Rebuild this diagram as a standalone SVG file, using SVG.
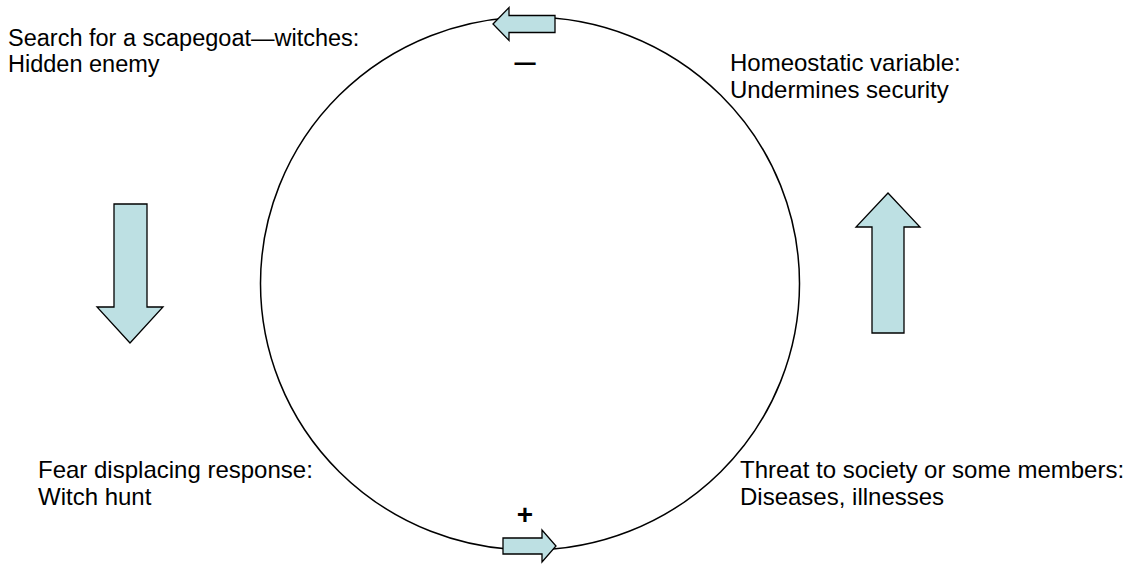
<svg xmlns="http://www.w3.org/2000/svg" width="1128" height="565" viewBox="0 0 1128 565">
<style>
.lbl{font-family:"Liberation Sans",Arial,sans-serif;font-size:24px;fill:#000}
.arr{fill:#BDE0E3;stroke:#000;stroke-width:1.3;stroke-linejoin:miter}
.sign{font-family:"Liberation Sans",Arial,sans-serif;fill:#000;text-anchor:middle}
</style>
<rect width="1128" height="565" fill="#fff"/>
<g id="connectors">
<ellipse cx="530" cy="283.5" rx="269.5" ry="266.5" fill="none" stroke="#000" stroke-width="1.5"/>
<polygon class="arr" points="493,24 509,7.5 509,15.5 555,15.5 555,32.5 509,32.5 509,40.5"/>
<polygon class="arr" points="503,538 542,538 542,530 556,546 542,562 542,554 503,554"/>
<polygon class="arr" points="114,204 147,204 147,307 163,307 130,343 97,307 114,307"/>
<polygon class="arr" points="888,193 920,227 904,227 904,333 872,333 872,227 856,227"/>
<text class="sign" x="525" y="74" font-size="38">–</text>
<text class="sign" x="525" y="524" font-size="28" font-weight="bold">+</text>
</g>
<g id="node-search">
<text class="lbl" x="8" y="46" font-size="23.5" style="font-size:23.5px">Search for a scapegoat—witches:</text>
<text class="lbl" x="8" y="72" style="font-size:23.5px">Hidden enemy</text>
</g>
<g id="node-homeostatic">
<text class="lbl" x="730" y="71">Homeostatic variable:</text>
<text class="lbl" x="730" y="98">Undermines security</text>
</g>
<g id="node-fear">
<text class="lbl" x="38" y="478">Fear displacing response:</text>
<text class="lbl" x="38" y="505">Witch hunt</text>
</g>
<g id="node-threat">
<text class="lbl" x="740" y="478">Threat to society or some members:</text>
<text class="lbl" x="740" y="505">Diseases, illnesses</text>
</g>
</svg>
